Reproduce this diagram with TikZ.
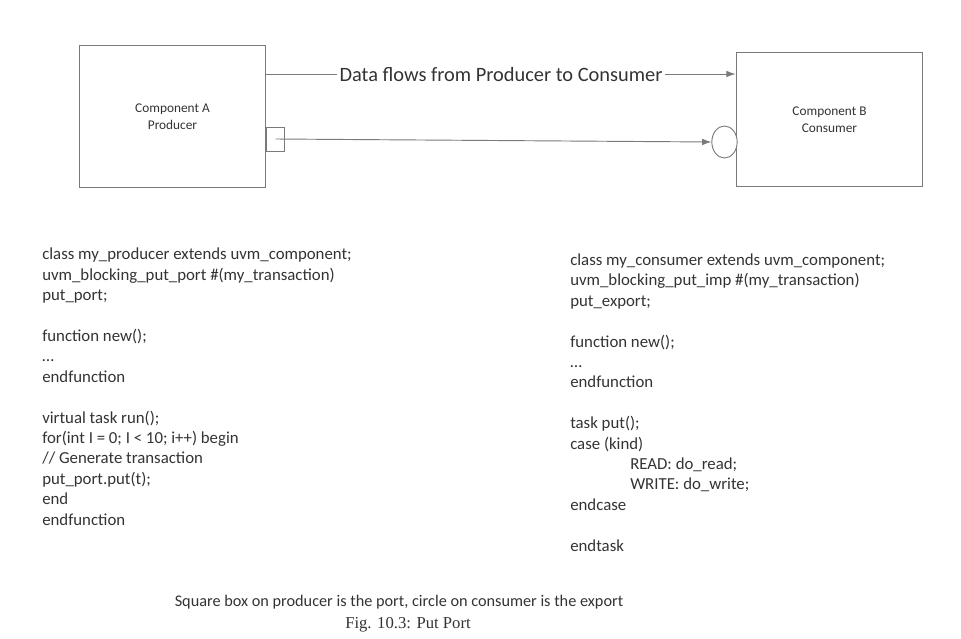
\documentclass[tikz,border=0pt]{standalone}
\usepackage{fontspec}
\setmainfont{Carlito}
\newfontfamily\capfont{Liberation Serif}
\usetikzlibrary{arrows.meta,positioning,shapes.geometric}
\definecolor{inkgray}{HTML}{333333}
\definecolor{linegray}{HTML}{7A7A7A}

\begin{document}
\begin{tikzpicture}[
    x=0.75pt,
    y=-0.75pt,
    comp/.style={draw=linegray, line width=0.8pt, align=center, font=\fontsize{10}{12.5}\selectfont, text=inkgray, minimum width=140pt},
    portbox/.style={draw=linegray, line width=0.7pt, fill=white, minimum width=14pt, minimum height=18pt, inner sep=0pt},
    expcircle/.style={draw=linegray, ellipse, line width=0.7pt, fill=white, minimum width=19pt, minimum height=24pt, inner sep=0pt},
    code/.style={anchor=base west, align=left, inner sep=0pt, text=inkgray, font=\fontsize{12.6}{15.3}\selectfont},
    arrow/.style={-{Latex[length=7pt,width=5pt]}, draw=linegray, line width=0.7pt},
    plain/.style={draw=linegray, line width=0.7pt}
  ]
    \useasboundingbox (0,0) rectangle (961,639);

    % -- components --
    \node[comp, minimum height=107pt] (compA) at (172.5, 116.5) {Component A\\Producer};
    \node[comp, minimum height=101pt] (compB) at (829.5, 119.5) {Component B\\Consumer};

    % -- port and export --
    \node[portbox]   (port)   at (275.5, 139) {};
    \node[expcircle] (export) at (724.5, 142) {};

    % -- data flow label --
    \node[text=inkgray, inner sep=1.5pt, font=\fontsize{15.3}{18}\selectfont] (flow) at (501, 74) {Data flows from Producer to Consumer};
    \draw[plain] (flow.west -| compA.east) -- (flow.west);
    \draw[arrow] (flow.east) -- (flow.east -| compB.west);

    % -- port to export --
    \draw[arrow] (port.center) -- (export.west);

    % -- producer code (anchored at last line) --
    \node[code] (prodcode) at (42, 525) {class my\_producer extends uvm\_component;\\
uvm\_blocking\_put\_port \#(my\_transaction)\\
put\_port;\\
\\
function new();\\
…\\
endfunction\\
\\
virtual task run();\\
for(int I = 0; I < 10; i++) begin\\
// Generate transaction\\
put\_port.put(t);\\
end\\
endfunction};

    % -- consumer code (anchored at last line) --
    \node[code] (conscode) at (570, 551) {class my\_consumer extends uvm\_component;\\
uvm\_blocking\_put\_imp \#(my\_transaction)\\
put\_export;\\
\\
function new();\\
…\\
endfunction\\
\\
task put();\\
case (kind)\\
\hspace*{45pt}READ: do\_read;\\
\hspace*{45pt}WRITE: do\_write;\\
endcase\\
\\
endtask};

    % -- captions --
    \node[text=inkgray, font=\fontsize{12.2}{14}\selectfont] (note) at (399, 602) {Square box on producer is the port, circle on consumer is the export};
    \node[text=inkgray, font=\capfont\fontsize{12.5}{15}\selectfont] (figcap) at (408, 625) {Fig. 10.3: Put Port};
\end{tikzpicture}
\end{document}
